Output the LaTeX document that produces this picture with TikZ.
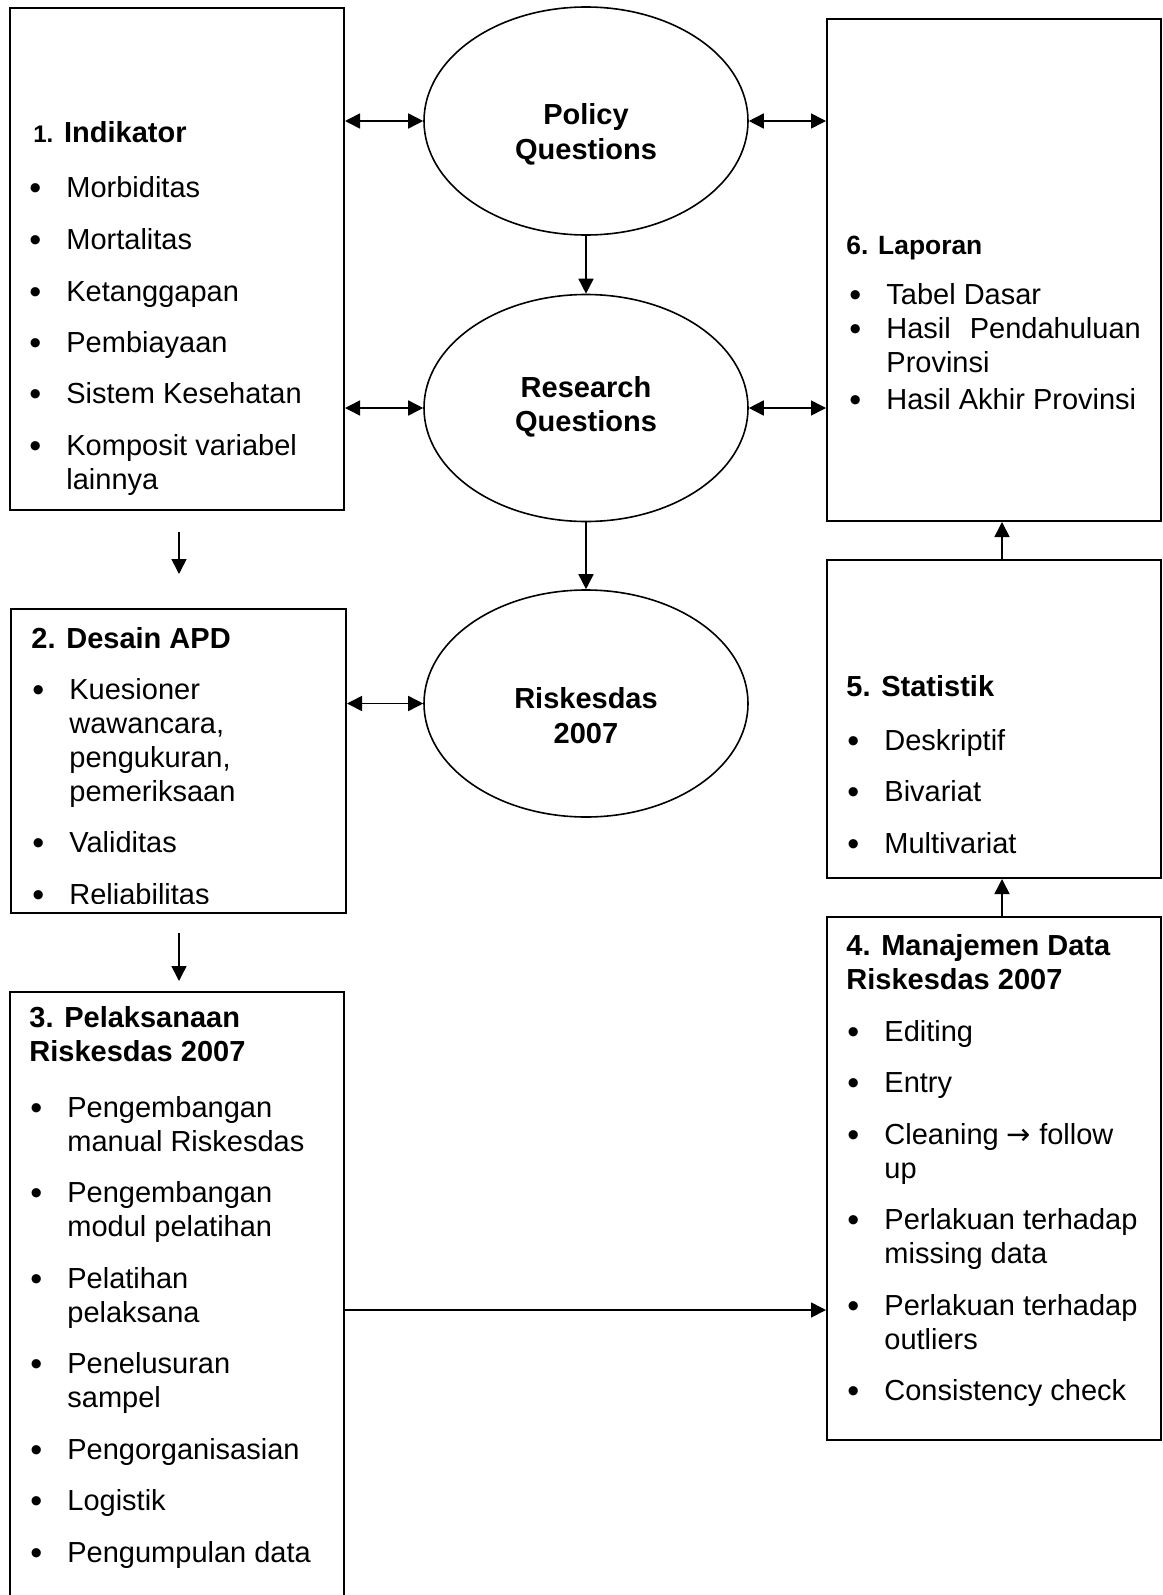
\documentclass[tikz,border=0pt]{standalone}
\usepackage{fontspec}
\setmainfont{Liberation Sans}
\newfontfamily\panahfont{DejaVu Sans}
\usepackage{tikz}
\usetikzlibrary{arrows.meta,shapes.geometric}
\newcommand{\titik}{\hspace*{-0.5pt}\raisebox{-1pt}{\fontsize{17}{17}\selectfont •}}
\tikzset{kotak/.style={draw,line width=1pt,inner sep=0pt,minimum width=167pt},
    elips/.style={draw,ellipse,line width=0.8pt,inner sep=0pt,
        minimum width=162pt,minimum height=113.5pt},
    judul/.style={anchor=base west,inner sep=0pt,
        font=\fontsize{14.5}{17}\selectfont\bfseries},
    teks/.style={anchor=base,inner sep=0pt,
        font=\fontsize{14.5}{17}\selectfont\bfseries},
    isi/.style={anchor=base west,inner sep=0pt,
        font=\fontsize{14.5}{17}\selectfont},
    panah/.style={line width=0.8pt,-{Triangle[length=7.5pt,width=7.5pt]}},
    duapanah/.style={line width=0.8pt,
        {Triangle[length=7.5pt,width=7.5pt]}-{Triangle[length=7.5pt,width=7.5pt]}}}

\begin{document}
\begin{tikzpicture}[x=0.5pt,y=-0.5pt]
\fill[white] (0,0) rectangle (1162,1595);
\useasboundingbox (0,0) rectangle (1162,1595);
\clip (0,0) rectangle (1162,1595);
% kotak
\node[kotak,minimum height=251pt] (indikator) at (177,259) {};
\node[kotak,minimum width=167.5pt,minimum height=152pt] (desain) at (178.5,761) {};
\node[kotak,minimum height=304pt] (pelaksanaan) at (176.5,1296) {};
\node[kotak,minimum height=251pt] (laporan) at (994,270) {};
\node[kotak,minimum height=159pt] (statistik) at (994,719) {};
\node[kotak,minimum height=261.5pt] (manajemen) at (994,1178.5) {};
% elips
\node[elips,minimum height=114pt] (policy) at (586,121) {};
\node[elips] (research) at (586,408) {};
\node[elips] (riskesdas) at (586,703.5) {};
\node[teks] (policyteks) at (586,125) {\begin{tabular}[t]{@{}c@{}}Policy\\[0.5pt]Questions\end{tabular}};
\node[teks] (researchteks) at (586,397) {\begin{tabular}[t]{@{}c@{}}Research\\Questions\end{tabular}};
\node[teks] (riskesdasteks) at (586,708) {\begin{tabular}[t]{@{}c@{}}Riskesdas\\[0.5pt]2007\end{tabular}};

\node[judul] (indikatorjudul) at (33,142) {{\fontsize{12}{17}\selectfont 1.} Indikator};
\node[isi] (indikatorisi) at (30,198) {\begin{tabular}[t]{@{}p{18pt}@{}l@{}}
\titik & Morbiditas\\[8.75pt]
\titik & Mortalitas\\[8.75pt]
\titik & Ketanggapan\\[8.75pt]
\titik & Pembiayaan\\[8.75pt]
\titik & Sistem Kesehatan\\[8.75pt]
\titik & Komposit variabel\\
  & lainnya
\end{tabular}};

\node[judul] (desainjudul) at (31,648) {2. Desain APD};
\begin{scope}
\clip (0,600) rectangle (400,903);
\node[isi] (desainisi) at (33,699) {\begin{tabular}[t]{@{}p{18pt}@{}l@{}}
\titik & Kuesioner\\
  & wawancara,\\
  & pengukuran,\\
  & pemeriksaan\\[8.75pt]
\titik & Validitas\\[8.75pt]
\titik & Reliabilitas
\end{tabular}};
\end{scope}

\node[judul] (pelaksanaanjudul) at (29,1027) {\begin{tabular}[t]{@{}l@{}}3. Pelaksanaan\\Riskesdas 2007\end{tabular}};
\node[isi] (pelaksanaanisi) at (31,1117) {\begin{tabular}[t]{@{}p{18pt}@{}l@{}}
\titik & Pengembangan\\
  & manual Riskesdas\\[8.75pt]
\titik & Pengembangan\\
  & modul pelatihan\\[8.75pt]
\titik & Pelatihan\\
  & pelaksana\\[8.75pt]
\titik & Penelusuran\\
  & sampel\\[8.75pt]
\titik & Pengorganisasian\\[8.75pt]
\titik & Logistik\\[8.75pt]
\titik & Pengumpulan data
\end{tabular}};

\node[judul] (manajemenjudul) at (846,955) {\begin{tabular}[t]{@{}l@{}}4. Manajemen Data\\Riskesdas 2007\end{tabular}};
\node[isi] (manajemenisi) at (848,1041) {\begin{tabular}[t]{@{}p{18pt}@{}l@{}}
\titik & Editing\\[8.75pt]
\titik & Entry\\[8.75pt]
\titik & Cleaning {\panahfont →} follow\\
  & up\\[8.75pt]
\titik & Perlakuan terhadap\\
  & missing data\\[8.75pt]
\titik & Perlakuan terhadap\\
  & outliers\\[8.75pt]
\titik & Consistency check
\end{tabular}};

\node[judul] (statistikjudul) at (846,696) {5. Statistik};
\node[isi] (statistikisi) at (848,750) {\begin{tabular}[t]{@{}p{18pt}@{}l@{}}
\titik & Deskriptif\\[8.75pt]
\titik & Bivariat\\[8.75pt]
\titik & Multivariat
\end{tabular}};

\node[judul,font=\fontsize{13.2}{17}\selectfont\bfseries] (laporanjudul) at (846,254) {6. Laporan};
\node[isi] (laporanisi) at (850,304) {\begin{tabular}[t]{@{}p{18pt}@{}l@{}}
\titik & Tabel Dasar\\
\titik & Hasil\hspace{5.5pt} Pendahuluan\\
  & Provinsi\\[1.5pt]
\titik & Hasil Akhir Provinsi
\end{tabular}};

% panah
\coordinate (p12a) at (179,532);
\coordinate (p12b) at (179,574);
\coordinate (p23a) at (179,933);
\coordinate (p23b) at (179,981);
\draw[duapanah] (indikator.east |- policy.west) -- (policy.west);
\draw[duapanah] (policy.east) -- (policy.east -| laporan.west);
\draw[duapanah] (indikator.east |- research.west) -- (research.west);
\draw[duapanah] (research.east) -- (research.east -| laporan.west);
\draw[duapanah] (desain.east |- riskesdas.west) -- (riskesdas.west);
\draw[panah] (policy.south) -- (research.north);
\draw[panah] (research.south) -- (riskesdas.north);
\draw[panah] (p12a) -- (p12b);
\draw[panah] (p23a) -- (p23b);
\draw[panah] ([yshift=-7pt]pelaksanaan.east) -- ([yshift=-7pt]pelaksanaan.east -| manajemen.west);
\draw[panah] ([xshift=4pt]manajemen.north) -- ([xshift=4pt]statistik.south);
\draw[panah] ([xshift=4pt]statistik.north) -- ([xshift=4pt]laporan.south);
\end{tikzpicture}
\end{document}
